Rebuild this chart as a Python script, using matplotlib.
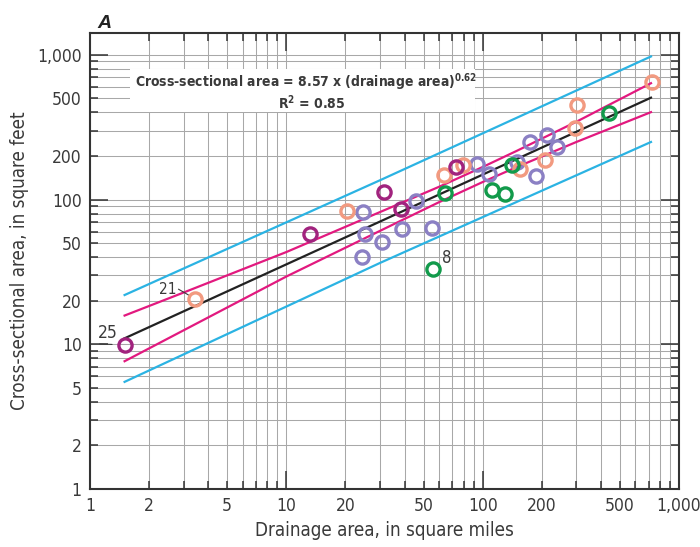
import matplotlib
matplotlib.use("Agg")
import matplotlib.pyplot as plt
from matplotlib import font_manager
from matplotlib.ticker import LogLocator, FuncFormatter
from matplotlib.patches import Rectangle

# --- fonte estreita (parecida com Univers Condensed) ---
nomes = {f.name for f in font_manager.fontManager.ttflist}
if "Liberation Sans Narrow" in nomes:
    FONTE = "Liberation Sans Narrow"
    ESTICA = "normal"
else:
    FONTE = "DejaVu Sans"
    ESTICA = "condensed"

plt.rcParams["font.family"] = [FONTE, "DejaVu Sans"]
plt.rcParams["font.stretch"] = ESTICA
plt.rcParams["mathtext.fontset"] = "custom"
plt.rcParams["mathtext.rm"] = FONTE + ":bold"
plt.rcParams["mathtext.it"] = FONTE + ":bold"
plt.rcParams["mathtext.bf"] = FONTE + ":bold"

# --- dados ---
roxo_x = [1.5, 13.2, 31.6, 38.3, 72.9]
roxo_y = [9.9, 57.8, 113, 85.7, 169]

lilas_x = [24.7, 25.1, 24.2, 30.6, 38.6, 45.8, 55.0, 93.3, 108, 150, 175, 188, 212, 240]
lilas_y = [81.7, 57.8, 39.9, 51.2, 62.6, 98.2, 63.3, 176, 150, 183, 251, 146, 279, 230]

laranja_x = [3.43, 20.3, 63.8, 79.8, 155, 208, 296, 304, 727]
laranja_y = [20.6, 83.4, 148, 173, 163, 188, 311, 451, 653]

verde_x = [56.1, 64.3, 111, 130, 140.6, 441]
verde_y = [33.1, 110.5, 116, 109, 173, 399]

# reta de regressão (Cross-sectional area = 8.57 x DA^0.62)
reta_x = [1.5, 720]
reta_y = [11.0, 506]

# intervalo de confiança (magenta)
ic_x = [1.5, 3, 10, 30, 60, 100, 150, 300, 720]
ic_sup = [15.8, 22.8, 43.4, 82.0, 122.6, 167.9, 217.9, 345, 637]
ic_inf = [7.64, 12.5, 29.4, 60.8, 96.0, 132.2, 168.3, 250, 402]

# intervalo de predição (ciano)
ip_x = [1.5, 30, 720]
ip_sup = [21.9, 136, 975]
ip_inf = [5.5, 36.5, 250]

ticks_rotulo = [1, 2, 5, 10, 20, 50, 100, 200, 500, 1000]

COR_ROXO = "#a1237e"
COR_LILAS = "#8b80c4"
COR_LARANJA = "#f29a80"
COR_VERDE = "#129a4b"
COR_TEXTO = "#3a3a3a"

fig = plt.figure(figsize=(7.0, 5.47), dpi=100)
ax = fig.add_axes([0.1286, 0.106, 0.8414, 0.8336])
ax.set_xscale("log")
ax.set_yscale("log")
ax.set_xlim(1, 1000)
ax.set_ylim(1, 1415)

# grade
ax.grid(True, which="both", color="#a8a8a8", linewidth=0.75, zorder=0)
ax.set_axisbelow(True)

# caixa branca atrás da equação
ax.add_patch(Rectangle((0.068, 0.826), 0.585, 0.095, transform=ax.transAxes,
                       facecolor="white", edgecolor="none", zorder=1.5))

# linhas
ax.plot(ip_x, ip_sup, color="#2bb3e3", lw=1.6, zorder=3)
ax.plot(ip_x, ip_inf, color="#2bb3e3", lw=1.6, zorder=3)
ax.plot(ic_x, ic_sup, color="#e2197f", lw=1.6, zorder=3)
ax.plot(ic_x, ic_inf, color="#e2197f", lw=1.6, zorder=3)
ax.plot(reta_x, reta_y, color="#222222", lw=1.6, zorder=3)

# pontos
estilo = dict(linestyle="none", marker="o", markersize=9.5,
              markerfacecolor="none", markeredgewidth=2.4, zorder=4)
ax.plot(lilas_x, lilas_y, markeredgecolor=COR_LILAS, **estilo)
ax.plot(laranja_x, laranja_y, markeredgecolor=COR_LARANJA, **estilo)
ax.plot(roxo_x, roxo_y, markeredgecolor=COR_ROXO, **estilo)
ax.plot(verde_x, verde_y, markeredgecolor=COR_VERDE, **estilo)

# rótulos de alguns pontos
ax.annotate("25", xy=(roxo_x[0], roxo_y[0]), xytext=(-12, 8.5),
            textcoords="offset points", ha="center", va="center",
            fontsize=12.5, color=COR_TEXTO)
ax.annotate("", xy=(roxo_x[0], roxo_y[0]), xytext=(-18, 0.7),
            textcoords="offset points",
            arrowprops=dict(arrowstyle="-", color=COR_TEXTO, lw=0.8,
                            shrinkA=0, shrinkB=9))
ax.annotate("21", xy=(laranja_x[0], laranja_y[0]), xytext=(-19.5, 6.5),
            textcoords="offset points", ha="center", va="center",
            fontsize=11, color=COR_TEXTO)
ax.annotate("", xy=(laranja_x[0], laranja_y[0]), xytext=(-12, 7),
            textcoords="offset points",
            arrowprops=dict(arrowstyle="-", color=COR_TEXTO, lw=0.8,
                            shrinkA=0, shrinkB=5))
ax.annotate("8", xy=(verde_x[0], verde_y[0]), xytext=(9.5, 7.7),
            textcoords="offset points", ha="center", va="center",
            fontsize=12, color=COR_TEXTO)

# equação
ax.text(0.0764, 0.893, "Cross-sectional area = 8.57 x (drainage area)$^{0.62}$",
        transform=ax.transAxes, ha="left", va="center", fontsize=10,
        fontweight="bold", color=COR_TEXTO, zorder=5)
ax.text(0.433, 0.848, "R$^{2}$ = 0.85", transform=ax.transAxes,
        ha="right", va="center", fontsize=10, fontweight="bold",
        color=COR_TEXTO, zorder=5)

# eixos e ticks
fmt = FuncFormatter(lambda v, p: f"{v:,.0f}" if round(v) in ticks_rotulo else "")
for eixo in (ax.xaxis, ax.yaxis):
    eixo.set_major_locator(LogLocator(base=10, subs=(1.0,)))
    eixo.set_minor_locator(LogLocator(base=10, subs=tuple(range(2, 10))))
    eixo.set_major_formatter(fmt)
    eixo.set_minor_formatter(fmt)

ax.tick_params(which="both", direction="in", top=True, right=True,
               colors="#333333", labelcolor=COR_TEXTO, labelsize=12.5, pad=6)
ax.tick_params(which="major", length=13, width=1.1)
ax.tick_params(which="minor", length=6, width=1.1)
for s in ax.spines.values():
    s.set_color("#333333")
    s.set_linewidth(1.5)

ax.set_xlabel("Drainage area, in square miles", fontsize=13.5,
              color=COR_TEXTO, labelpad=4)
ax.set_ylabel("Cross-sectional area, in square feet", fontsize=13.5,
              color=COR_TEXTO, labelpad=6)

fig.text(0.139, 0.972, "A", fontsize=14, fontweight="bold", style="italic",
         family=["Liberation Sans", "DejaVu Sans"], color="#222222",
         ha="left", va="top")

fig.savefig("out.png", dpi=100)
